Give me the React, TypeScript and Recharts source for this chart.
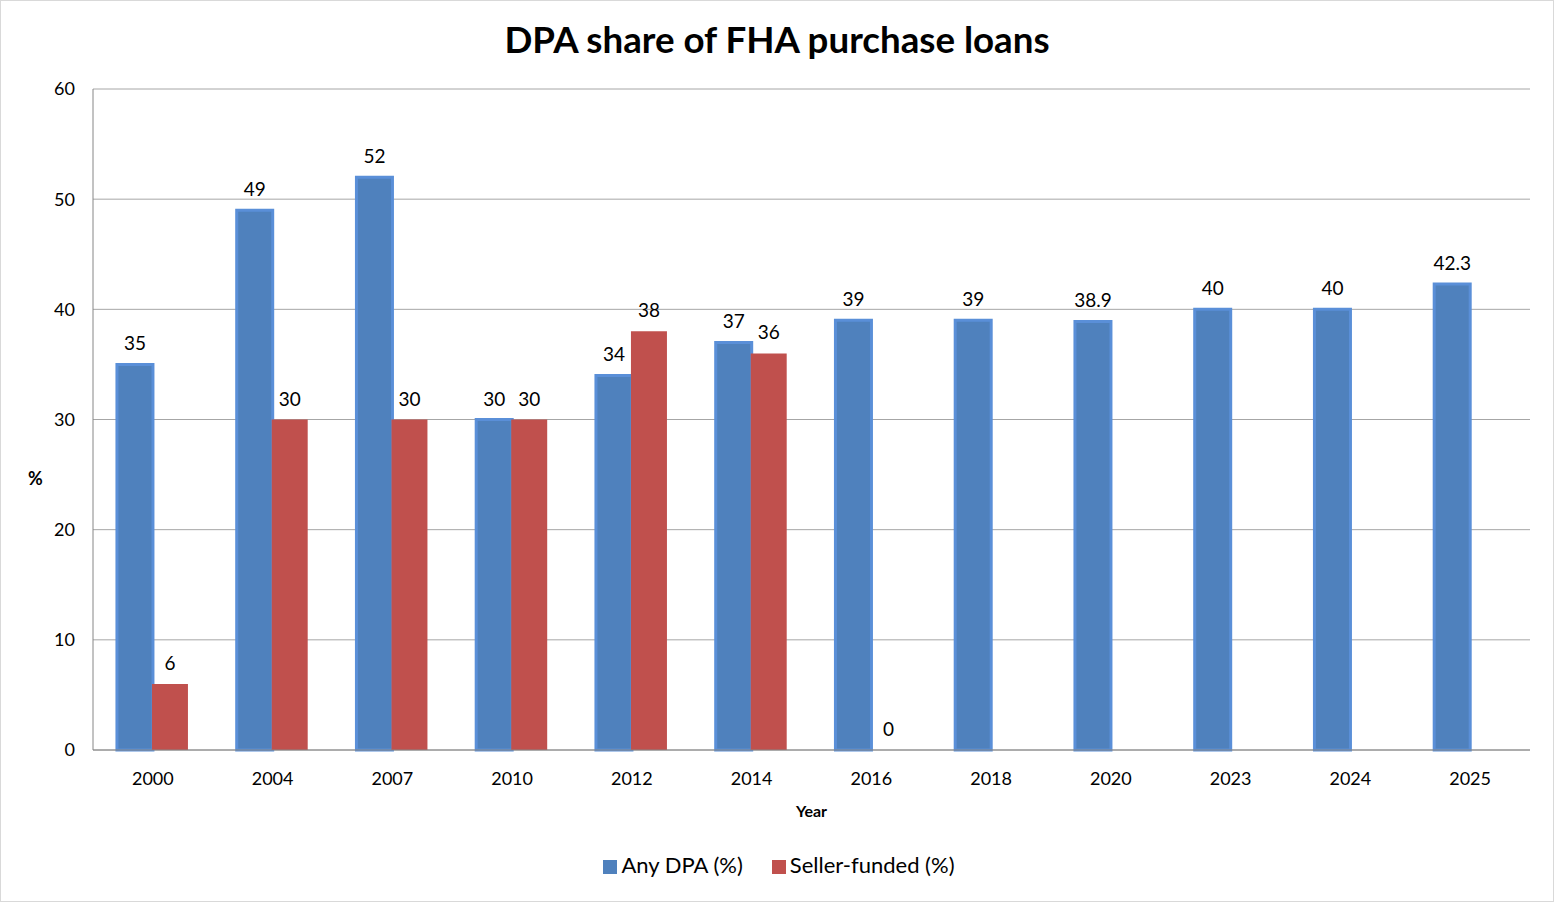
import { BarChart, Bar, XAxis, YAxis, CartesianGrid, Legend, LabelList } from "recharts";

const years = ["2000", "2004", "2007", "2010", "2012", "2014", "2016", "2018", "2020", "2023", "2024", "2025"];
const anyDpa = [35, 49, 52, 30, 34, 37, 39, 39, 38.9, 40, 40, 42.3];
const sellerFunded: (number | null)[] = [6, 30, 30, 30, 38, 36, 0, null, null, null, null, null];
const yTicks = [0, 10, 20, 30, 40, 50, 60];

const data = years.map((year, i) => ({ year, any: anyDpa[i], seller: sellerFunded[i] }));

const FONT = "Lato, 'Open Sans', sans-serif";

// skip labels where there is no value
const TopLabel = (props: any) => {
  const { x, y, width, value } = props;
  if (value === null || value === undefined) return null;
  return (
    <text x={x + width / 2} y={y - 14} textAnchor="middle" fontSize={19} fill="#000" fontFamily={FONT}>
      {value}
    </text>
  );
};

export default function App() {
  return (
    <div
      style={{
        position: "fixed",
        left: 0,
        top: 0,
        width: 1552,
        height: 900,
        border: "1px solid #d9d9d9",
        background: "#fff",
        fontFamily: FONT,
      }}
    >
      <div
        style={{
          position: "absolute",
          top: 16,
          left: 0,
          width: "100%",
          textAlign: "center",
          fontSize: 36.7,
          fontWeight: 700,
          color: "#000",
        }}
      >
        DPA share of FHA purchase loans
      </div>
      <div style={{ position: "absolute", left: -1, top: -1 }}>
        <BarChart
          width={1554}
          height={902}
          data={data}
          margin={{ top: 89, right: 24, left: 20, bottom: 53 }}
          barGap={-1}
          barCategoryGap="20%"
        >
          <CartesianGrid vertical={false} stroke="#a6a6a6" />
          <XAxis
            dataKey="year"
            tickLine={false}
            tickSize={0}
            tickMargin={22}
            stroke="#868686"
            tick={{ fill: "#000", fontSize: 18, fontFamily: FONT }}
            height={72}
            label={{ value: "Year", position: "insideBottom", offset: 5, fontSize: 16, fontWeight: 700, fill: "#000", fontFamily: FONT }}
          />
          <YAxis
            domain={[0, 60]}
            ticks={yTicks}
            width={73}
            tickLine={false}
            tickSize={0}
            tickMargin={18}
            stroke="#868686"
            tick={{ fill: "#000", fontSize: 18, fontFamily: FONT }}
            label={{ value: "%", position: "insideLeft", offset: 8, dy: 59, fontSize: 18, fontWeight: 700, fill: "#000", fontFamily: FONT }}
          />
          <Legend
            verticalAlign="bottom"
            iconType="square"
            iconSize={14}
            wrapperStyle={{ top: 851, paddingLeft: 9, fontSize: 22, fontFamily: FONT, color: "#000" }}
            formatter={(value, _entry, index) => (
              <span style={{ color: "#000", paddingRight: index === 0 ? 19 : 0 }}>{value}</span>
            )}
          />
          <Bar dataKey="any" name="Any DPA (%)" fill="#4F81BD" stroke="#5A8FD8" strokeWidth={3} isAnimationActive={false}>
            <LabelList dataKey="any" content={TopLabel} />
          </Bar>
          {/* tiny min size keeps the 0 entry (and its label) from being dropped */}
          <Bar
            dataKey="seller"
            name="Seller-funded (%)"
            fill="#C0504D"
            stroke="none"
            minPointSize={(v: any) => (v === 0 ? 0.01 : 0)}
            isAnimationActive={false}
          >
            <LabelList dataKey="seller" content={TopLabel} />
          </Bar>
        </BarChart>
      </div>
    </div>
  );
}
